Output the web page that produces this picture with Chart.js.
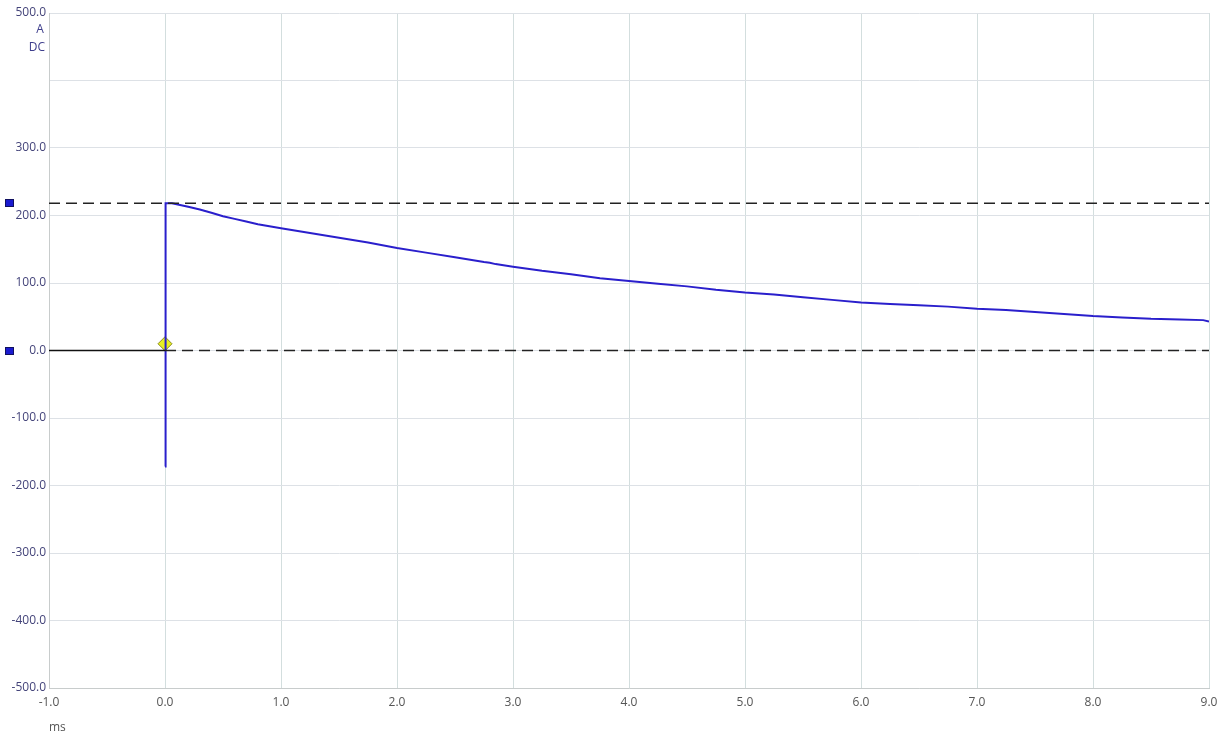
<!DOCTYPE html>
<html>
<head>
<meta charset="utf-8">
<script src="https://cdn.jsdelivr.net/npm/chart.js@4"></script>
<style>
  html, body { margin: 0; padding: 0; background: #fff; }
  #wrap { width: 1225px; height: 739px; }
</style>
</head>
<body>
<div id="wrap"><canvas id="scope"></canvas></div>
<script>
// current trace (ms, A)
const traceTime = [0, 0.005, 0.06, 0.2, 0.3, 0.4, 0.5, 0.6, 0.7, 0.8, 0.9, 1.0, 1.25, 1.5, 1.75, 2.0, 2.25, 2.5, 2.75, 2.8, 2.85, 3.0, 3.25, 3.5, 3.75, 4.0, 4.25, 4.5, 4.75, 5.0, 5.25, 5.5, 5.75, 6.0, 6.25, 6.5, 6.75, 7.0, 7.25, 7.5, 7.75, 8.0, 8.25, 8.5, 8.75, 8.95, 9.0];
const traceAmps = [-172, 218, 218, 213, 209, 204, 199, 195, 191, 187, 184, 181, 174, 167, 160, 152, 145, 138, 131, 130, 128, 124, 118, 113, 107, 103, 99, 95, 90, 86, 83, 79, 75, 71, 69, 67, 65, 62, 60, 57, 54, 51, 49, 47, 46, 45, 43];

// cursor levels
const cursorLevels = [218, 0];
const triggerPoint = { x: 0, y: 10 };

const xTicks = [-1, 0, 1, 2, 3, 4, 5, 6, 7, 8, 9];
const yTicks = [-500, -400, -300, -200, -100, 0, 100, 200, 300, 400, 500];
const unitLabels = ['A', 'DC'];

const traceData = traceTime.map((t, i) => ({ x: t, y: traceAmps[i] }));

// unit text under the top y label, and the cursor handles left of the axis
const extrasPlugin = {
    id: 'extras',
    afterDraw(chart) {
        const ctx = chart.ctx;
        const y = chart.scales.y;
        const top = y.getPixelForValue(500);
        ctx.save();
        ctx.font = '12px "Open Sans", sans-serif';
        ctx.fillStyle = '#3e3e8c';
        ctx.textAlign = 'center';
        ctx.textBaseline = 'middle';
        ctx.fillText(unitLabels[0], 40, top + 17);
        ctx.fillText(unitLabels[1], 37, top + 35);

        cursorLevels.forEach(v => {
            const py = Math.round(y.getPixelForValue(v));
            ctx.fillStyle = '#1a1ad0';
            ctx.strokeStyle = '#101060';
            ctx.lineWidth = 1;
            ctx.fillRect(5, py - 4, 9, 8);
            ctx.strokeRect(5.5, py - 3.5, 8, 7);
        });
        ctx.restore();
    }
};

const ctx = document.getElementById('scope').getContext('2d');
const chart = new Chart(ctx, {
    type: 'scatter',
    data: {
        datasets: [{
            // solid zero line before trigger
            data: [{ x: -1, y: 0 }, { x: 0, y: 0 }],
            showLine: true,
            borderColor: '#111',
            borderWidth: 1.5,
            pointRadius: 0
        }, {
            data: [{ x: 0, y: cursorLevels[1] }, { x: 9, y: cursorLevels[1] }],
            showLine: true,
            borderColor: '#222',
            borderWidth: 1.5,
            borderDash: [11, 6],
            pointRadius: 0
        }, {
            data: [{ x: -1, y: cursorLevels[0] }, { x: 9, y: cursorLevels[0] }],
            showLine: true,
            borderColor: '#222',
            borderWidth: 1.5,
            borderDash: [11, 6],
            pointRadius: 0
        }, {
            label: 'Current',
            data: traceData,
            showLine: true,
            borderColor: '#2a1fcc',
            borderWidth: 2,
            pointRadius: 0,
            tension: 0
        }, {
            // trigger marker
            data: [triggerPoint],
            pointStyle: 'rectRot',
            pointRadius: 7,
            backgroundColor: '#e8f020',
            borderColor: '#8a8a20',
            borderWidth: 1
        }]
    },
    options: {
        responsive: true,
        maintainAspectRatio: false,
        animation: false,
        layout: { padding: { top: 13, right: 16, left: 0, bottom: 0 } },
        plugins: {
            legend: { display: false },
            tooltip: { enabled: false }
        },
        scales: {
            x: {
                type: 'linear',
                min: -1,
                max: 9,
                afterBuildTicks: axis => { axis.ticks = xTicks.map(v => ({ value: v })); },
                afterFit: axis => { axis.height = 51; },
                ticks: {
                    color: '#555',
                    font: { family: 'Open Sans', size: 12 },
                    padding: 7,
                    maxRotation: 0,
                    callback: v => v.toFixed(1)
                },
                grid: { color: '#d3dede', drawTicks: false },
                border: { color: '#c8cccc' },
                title: {
                    display: true,
                    text: 'ms',
                    align: 'start',
                    color: '#555',
                    font: { family: 'Open Sans', size: 12 },
                    padding: { top: 0, bottom: 4 }
                }
            },
            y: {
                min: -500,
                max: 500,
                afterBuildTicks: axis => { axis.ticks = yTicks.map(v => ({ value: v })); },
                afterFit: axis => { axis.width = 49; },
                ticks: {
                    color: '#44447a',
                    font: { family: 'Open Sans', size: 12 },
                    padding: 3,
                    callback: v => (v === 400 ? '' : v.toFixed(1))
                },
                grid: { color: '#dde1e6', drawTicks: false },
                border: { color: '#c8cccc' }
            }
        }
    },
    plugins: [extrasPlugin]
});
</script>
</body>
</html>
